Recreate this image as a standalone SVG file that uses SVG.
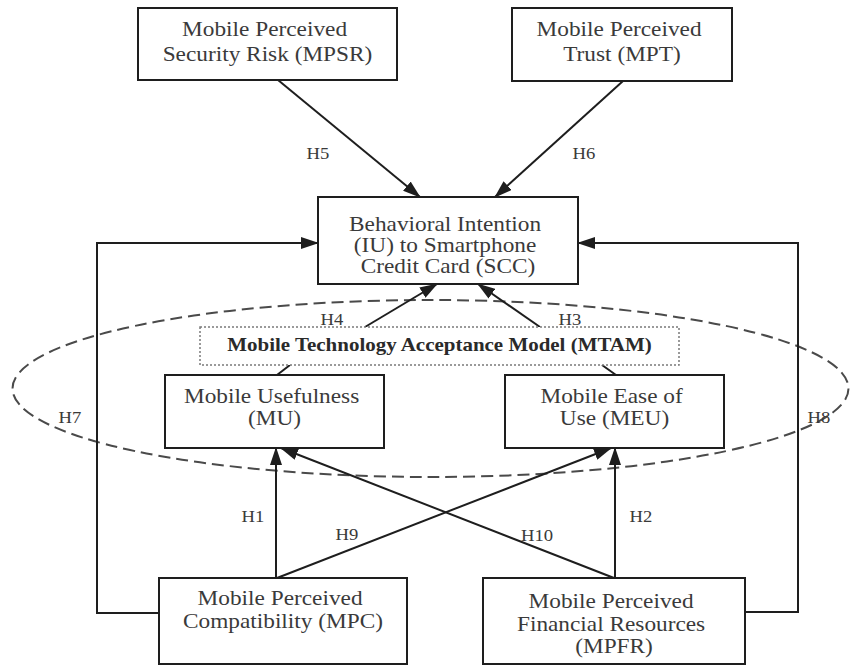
<svg xmlns="http://www.w3.org/2000/svg" width="851" height="666" viewBox="0 0 851 666">
  <style>
    .box { fill: #ffffff; stroke: #1e1e1e; stroke-width: 2; }
    .txt { font-family: "Liberation Serif", "Times New Roman", serif; font-size: 20px; fill: #3a3a3a; text-anchor: middle; }
    .lbl { font-family: "Liberation Serif", "Times New Roman", serif; font-size: 16px; fill: #3a3a3a; text-anchor: middle; }
    .mtam { font-family: "Liberation Serif", "Times New Roman", serif; font-size: 18px; font-weight: bold; fill: #2a2a2a; text-anchor: middle; }
    .edge { fill: none; stroke: #1e1e1e; stroke-width: 2; }
    .arrow { marker-end: url(#head); }
    .group { fill: none; stroke: #4a4a4a; stroke-width: 2; stroke-dasharray: 12 6; }
    .dotted { fill: #ffffff; stroke: #7a7a7a; stroke-width: 1.5; stroke-dasharray: 2 2; }
  </style>
  <defs>
    <marker id="head" markerUnits="userSpaceOnUse" markerWidth="18" markerHeight="12" refX="17" refY="6" orient="auto">
      <path d="M0,0 L18,6 L0,12 Z" fill="#1e1e1e"/>
    </marker>
  </defs>

  <!-- MTAM grouping ellipse -->
  <ellipse class="group" cx="430.5" cy="388.5" rx="418" ry="88.5"/>

  <!-- connectors -->
  <g id="connectors">
    <line class="edge arrow" x1="278" y1="80" x2="420" y2="197"/>
    <line class="edge arrow" x1="623" y1="81" x2="495" y2="197"/>
    <line class="edge arrow" x1="365" y1="327" x2="437" y2="284"/>
    <line class="edge arrow" x1="540" y1="327" x2="478" y2="284"/>
    <line class="edge" x1="290" y1="365" x2="277" y2="375"/>
    <line class="edge" x1="602" y1="365" x2="616" y2="375"/>
    <line class="edge arrow" x1="276" y1="578" x2="276" y2="448"/>
    <line class="edge arrow" x1="277" y1="578" x2="611" y2="448"/>
    <line class="edge arrow" x1="615" y1="578" x2="615" y2="448"/>
    <line class="edge arrow" x1="614" y1="578" x2="281" y2="448"/>
    <polyline class="edge arrow" points="159,613 97,613 97,243 318,243"/>
    <polyline class="edge arrow" points="745,612 798,612 798,243 578,243"/>
  </g>

  <!-- hypothesis labels -->
  <g id="labels">
    <text class="lbl" x="318" y="159" transform="matrix(1.165 0 0 1 -52.47 0)">H5</text>
    <text class="lbl" x="584" y="159" transform="matrix(1.165 0 0 1 -96.36 0)">H6</text>
    <text class="lbl" x="332" y="325" transform="matrix(1.165 0 0 1 -54.78 0)">H4</text>
    <text class="lbl" x="570" y="325" transform="matrix(1.165 0 0 1 -94.05 0)">H3</text>
    <text class="lbl" x="70" y="423" transform="matrix(1.165 0 0 1 -11.55 0)">H7</text>
    <text class="lbl" x="819" y="423" transform="matrix(1.165 0 0 1 -135.14 0)">H8</text>
    <text class="lbl" x="253" y="522" transform="matrix(1.165 0 0 1 -41.75 0)">H1</text>
    <text class="lbl" x="347" y="540" transform="matrix(1.165 0 0 1 -57.26 0)">H9</text>
    <text class="lbl" x="537" y="541" transform="matrix(1.165 0 0 1 -88.61 0)">H10</text>
    <text class="lbl" x="641" y="522" transform="matrix(1.165 0 0 1 -105.77 0)">H2</text>
  </g>

  <g id="mpsr">
    <rect class="box" x="138" y="8" width="259" height="72"/>
    <text class="txt" transform="matrix(1.165 0 0 1 -44.14 0)">
      <tspan x="267.5" y="36">Mobile Perceived</tspan>
      <tspan x="267.5" y="61">Security Risk (MPSR)</tspan>
    </text>
  </g>

  <g id="mpt">
    <rect class="box" x="512" y="8" width="220" height="73"/>
    <text class="txt" transform="matrix(1.165 0 0 1 -102.63 0)">
      <tspan x="622" y="36">Mobile Perceived</tspan>
      <tspan x="622" y="61">Trust (MPT)</tspan>
    </text>
  </g>

  <g id="scc">
    <rect class="box" x="318" y="197" width="260" height="87"/>
    <text class="txt" transform="matrix(1.165 0 0 1 -73.92 0)">
      <tspan x="448" y="231">Behavioral Intention</tspan>
      <tspan x="448" y="252">(IU) to Smartphone</tspan>
      <tspan x="448" y="273">Credit Card (SCC)</tspan>
    </text>
  </g>

  <g id="mtam">
    <rect class="dotted" x="200" y="327" width="479" height="38"/>
    <text class="mtam" x="439.5" y="351" transform="matrix(1.165 0 0 1 -72.52 0)">Mobile Technology Acceptance Model (MTAM)</text>
  </g>

  <g id="mu">
    <rect class="box" x="165" y="375" width="219" height="73"/>
    <text class="txt" transform="matrix(1.165 0 0 1 -45.29 0)">
      <tspan x="274.5" y="403">Mobile Usefulness</tspan>
      <tspan x="274.5" y="425">(MU)</tspan>
    </text>
  </g>

  <g id="meu">
    <rect class="box" x="505" y="375" width="219" height="73"/>
    <text class="txt" transform="matrix(1.165 0 0 1 -101.39 0)">
      <tspan x="614.5" y="403">Mobile Ease of</tspan>
      <tspan x="614.5" y="425">Use (MEU)</tspan>
    </text>
  </g>

  <g id="mpc">
    <rect class="box" x="159" y="578" width="248" height="86"/>
    <text class="txt" transform="matrix(1.165 0 0 1 -46.70 0)">
      <tspan x="283" y="605">Mobile Perceived</tspan>
      <tspan x="283" y="628">Compatibility (MPC)</tspan>
    </text>
  </g>

  <g id="mpfr">
    <rect class="box" x="483" y="578" width="262" height="86"/>
    <text class="txt" transform="matrix(1.165 0 0 1 -101.31 0)">
      <tspan x="614" y="608">Mobile Perceived</tspan>
      <tspan x="614" y="631">Financial Resources</tspan>
      <tspan x="614" y="653">(MPFR)</tspan>
    </text>
  </g>
</svg>
